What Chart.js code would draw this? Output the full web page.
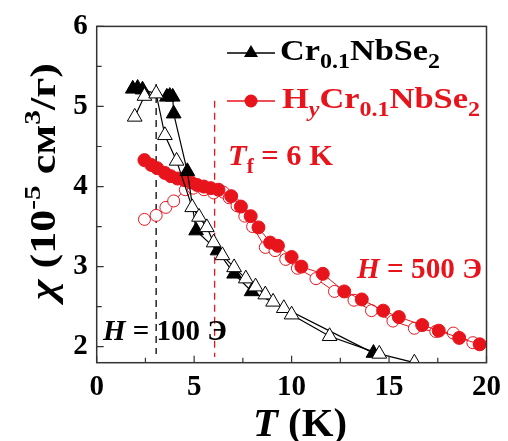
<!DOCTYPE html>
<html>
<head>
<meta charset="utf-8">
<script src="https://cdn.jsdelivr.net/npm/chart.js@4"></script>
<style>
  body { margin: 0; background: #fff; }
  canvas { display: block; }
</style>
</head>
<body>
<canvas id="chiChart" width="508" height="441"></canvas>
<script>
// Cr0.1NbSe2, H = 100 Oe
const crFcT   = [1.85, 2.1, 2.35, 3.6, 3.75, 3.9, 3.95, 4.65, 5.1, 6.2, 7.05, 7.95, 14.2];
const crFcChi = [5.22, 5.23, 5.21, 5.12, 5.13, 5.12, 4.91, 4.19, 3.45, 3.2, 2.91, 2.69, 1.92];
const crZfcT   = [1.95, 2.45, 3.05, 3.5, 4.1, 4.9, 5.25, 5.65, 6.0, 6.45, 7.05, 7.65, 8.15, 8.65, 9.05, 9.6, 10.0, 11.95, 14.5, 16.3];
const crZfcChi = [4.87, 5.13, 5.16, 4.64, 4.32, 3.74, 3.62, 3.49, 3.3, 3.14, 2.99, 2.85, 2.75, 2.65, 2.56, 2.48, 2.40, 2.13, 1.91, 1.80];

// HyCr0.1NbSe2, H = 500 Oe
const hFcT   = [2.45, 2.8, 3.1, 3.5, 3.8, 4.15, 4.5, 4.85, 5.15, 5.5, 5.85, 6.25, 6.9, 7.4, 7.9, 8.3, 8.9, 9.3, 10.0, 10.5, 11.6, 12.7, 13.6, 14.7, 15.5, 16.7, 17.55, 18.6, 19.65];
const hFcChi = [4.33, 4.27, 4.23, 4.17, 4.13, 4.10, 4.08, 4.05, 4.02, 4.00, 3.98, 3.96, 3.88, 3.75, 3.63, 3.49, 3.30, 3.26, 3.12, 3.00, 2.91, 2.69, 2.59, 2.45, 2.37, 2.27, 2.20, 2.11, 2.03];
const hZfcT   = [2.45, 3.05, 3.55, 3.95, 4.55, 4.95, 5.5, 6.0, 6.5, 6.8, 7.2, 7.6, 8.0, 8.65, 9.15, 9.7, 10.3, 11.25, 12.2, 13.2, 14.1, 15.2, 16.3, 17.4, 18.3, 19.3];
const hZfcChi = [3.59, 3.64, 3.74, 3.82, 3.96, 3.98, 3.96, 3.92, 3.93, 3.86, 3.76, 3.63, 3.50, 3.24, 3.20, 3.09, 2.98, 2.85, 2.69, 2.58, 2.45, 2.32, 2.23, 2.19, 2.17, 2.05];

// freezing temperatures (dashed markers): T and chi range
const crFreezeT = [3.05, 3.05];
const crFreezeChi = [5.28, 1.91];
const hFreezeT = [6.05, 6.05];
const hFreezeChi = [5.07, 1.87];

const xTicks = [0, 5, 10, 15, 20];
const yTicks = [2, 3, 4, 5, 6];

const RED = '#e8141c';
const SERIF = '"Liberation Serif"';

const pts = (xs, ys) => xs.map((x, i) => ({ x: x, y: ys[i] }));

// text runs: [text, size, italic, dy]; stretched to a target width
function runsWidth(ctx, runs) {
  let w = 0;
  runs.forEach(r => {
    ctx.font = (r[2] ? 'italic ' : '') + 'bold ' + r[1] + 'px ' + SERIF;
    w += ctx.measureText(r[0]).width;
  });
  return w;
}
function drawRuns(ctx, x, y, runs, color, width) {
  const sx = width ? width / runsWidth(ctx, runs) : 1;
  ctx.save();
  ctx.translate(x, y);
  ctx.scale(sx, 1);
  ctx.fillStyle = color;
  ctx.textBaseline = 'alphabetic';
  ctx.textAlign = 'left';
  let cx = 0;
  runs.forEach(r => {
    ctx.font = (r[2] ? 'italic ' : '') + 'bold ' + r[1] + 'px ' + SERIF;
    ctx.fillText(r[0], cx, r[3] || 0);
    cx += ctx.measureText(r[0]).width;
  });
  ctx.restore();
}

const decor = {
  id: 'decor',
  afterDraw(chart) {
    const ctx = chart.ctx, a = chart.chartArea;
    const xs = chart.scales.x, ys = chart.scales.y;
    ctx.save();
    // frame
    ctx.strokeStyle = '#333';
    ctx.lineWidth = 1.5;
    ctx.strokeRect(a.left, a.top, a.right - a.left, a.bottom - a.top);
    // inward ticks
    ctx.lineWidth = 1.2;
    ctx.beginPath();
    for (let v = 0; v <= 20; v += 2.5) {
      const px = xs.getPixelForValue(v);
      const len = (v % 5 === 0) ? 7 : 5;
      ctx.moveTo(px, a.bottom); ctx.lineTo(px, a.bottom - len);
    }
    for (let v = 2; v <= 6; v += 0.5) {
      const py = ys.getPixelForValue(v);
      const len = (v % 1 === 0) ? 7 : 5;
      ctx.moveTo(a.left, py); ctx.lineTo(a.left + len, py);
    }
    ctx.stroke();

    // legend
    ctx.strokeStyle = '#000';
    ctx.lineWidth = 1.3;
    ctx.beginPath(); ctx.moveTo(227, 53); ctx.lineTo(275, 53); ctx.stroke();
    ctx.fillStyle = '#000';
    ctx.beginPath(); ctx.moveTo(251, 45); ctx.lineTo(258, 57); ctx.lineTo(244, 57); ctx.closePath(); ctx.fill();
    drawRuns(ctx, 280, 60, [['Cr', 30], ['0.1', 21, false, 8], ['NbSe', 30], ['2', 21, false, 8]], '#000', 160);

    ctx.strokeStyle = RED;
    ctx.lineWidth = 1.3;
    ctx.beginPath(); ctx.moveTo(227, 101); ctx.lineTo(275, 101); ctx.stroke();
    ctx.fillStyle = RED;
    ctx.beginPath(); ctx.arc(251, 101, 6.5, 0, Math.PI * 2); ctx.fill();
    drawRuns(ctx, 282, 108, [['H', 30], ['y', 21, true, 8], ['Cr', 30], ['0.1', 21, false, 8], ['NbSe', 30], ['2', 21, false, 8]], RED, 198);

    // annotations
    drawRuns(ctx, 228, 165, [['T', 29, true], ['f', 20, false, 8], [' = 6 K', 29]], RED, 105);
    drawRuns(ctx, 357, 278, [['H', 29, true], [' = 500 Э', 29]], RED, 125);
    drawRuns(ctx, 103, 340, [['H', 29, true], [' = 100 Э', 29]], '#000', 124);

    // axis titles
    drawRuns(ctx, 253, 436, [['T', 40, true], [' (K)', 40]], '#000', 94);

    const yt = [['χ', 36, true], [' (10', 36], ['-5', 24, false, -15], [' см', 36], ['3', 24, false, -15], ['/г)', 36]];
    ctx.translate(55, 300);
    ctx.rotate(-Math.PI / 2);
    drawRuns(ctx, 0, 0, yt, '#000', 237);
    ctx.restore();
  }
};

const ctx = document.getElementById('chiChart').getContext('2d');
new Chart(ctx, {
  type: 'line',
  data: {
    datasets: [
      { data: pts(crZfcT, crZfcChi), borderColor: '#000', borderWidth: 1.2,
        pointStyle: 'triangle', pointRadius: 8.5, pointBackgroundColor: '#fff',
        pointBorderColor: '#000', pointBorderWidth: 1, order: 0 },
      { data: pts(crFcT, crFcChi), borderColor: '#000', borderWidth: 1.2,
        pointStyle: 'triangle', pointRadius: 8.5, pointBackgroundColor: '#000',
        pointBorderColor: '#000', pointBorderWidth: 1, order: 1 },
      { data: pts(hFcT, hFcChi), borderColor: RED, borderWidth: 1,
        pointStyle: 'circle', pointRadius: 6.5, pointBackgroundColor: RED,
        pointBorderColor: RED, pointBorderWidth: 1, order: 2 },
      { data: pts(hZfcT, hZfcChi), borderColor: RED, borderWidth: 1,
        pointStyle: 'circle', pointRadius: 6, pointBackgroundColor: '#fff',
        pointBorderColor: RED, pointBorderWidth: 1, order: 3 },
      { data: pts(crFreezeT, crFreezeChi), borderColor: '#000', borderWidth: 1.3,
        borderDash: [7, 5], pointRadius: 0, order: 4 },
      { data: pts(hFreezeT, hFreezeChi), borderColor: RED, borderWidth: 1.3,
        borderDash: [7, 5], pointRadius: 0, order: 5 }
    ]
  },
  options: {
    responsive: false,
    animation: false,
    layout: { padding: { top: 21.7, right: 18, left: 0, bottom: 0 } },
    plugins: { legend: { display: false }, tooltip: { enabled: false } },
    scales: {
      x: {
        type: 'linear', min: 0, max: 20,
        afterBuildTicks: s => { s.ticks = xTicks.map(v => ({ value: v })); },
        afterFit: s => { s.height = 78.3; },
        grid: { display: false, drawTicks: false },
        border: { display: false },
        ticks: { padding: 7, color: '#000', maxRotation: 0,
          font: { family: SERIF, size: 29, weight: 'bold' } }
      },
      y: {
        type: 'linear', min: 1.8, max: 6,
        afterBuildTicks: s => { s.ticks = yTicks.map(v => ({ value: v })); },
        afterFit: s => { s.width = 96.7; },
        grid: { display: false, drawTicks: false },
        border: { display: false },
        ticks: { padding: 9, color: '#000',
          font: { family: SERIF, size: 29, weight: 'bold' } }
      }
    }
  },
  plugins: [decor]
});
</script>
</body>
</html>
